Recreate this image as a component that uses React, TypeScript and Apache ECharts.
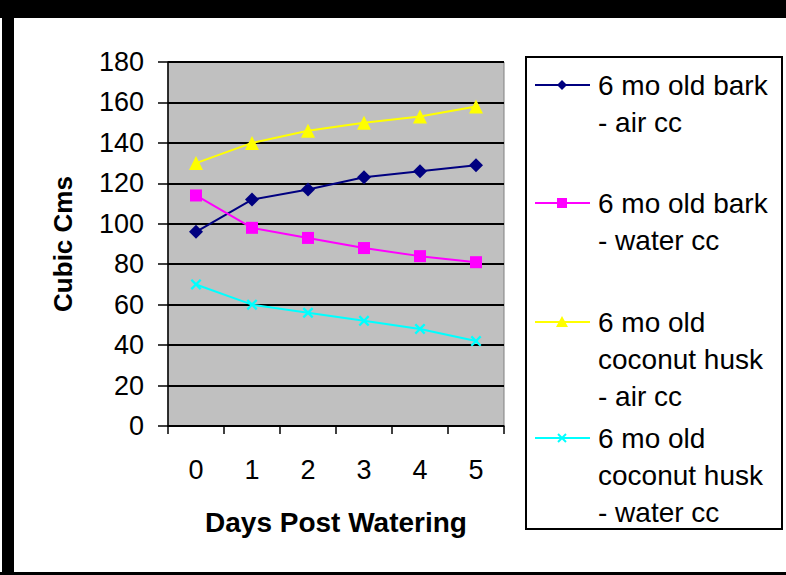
import React, { useEffect, useRef } from "react";
import * as echarts from "echarts";

const categories = ["0", "1", "2", "3", "4", "5"];
const seriesNames = [
  "6 mo old bark - air cc",
  "6 mo old bark - water cc",
  "6 mo old coconut husk - air cc",
  "6 mo old coconut husk - water cc",
];
const legendLabels = [
  "6 mo old bark\n- air cc",
  "6 mo old bark\n- water cc",
  "6 mo old\ncoconut husk\n- air cc",
  "6 mo old\ncoconut husk\n- water cc",
];
const barkAir = [96, 112, 117, 123, 126, 129];
const barkWater = [114, 98, 93, 88, 84, 81];
const huskAir = [130, 140, 146, 150, 153, 158];
const huskWater = [70, 60, 56, 52, 48, 42];
const yTicks = { min: 0, max: 180, interval: 20 };

const colors = ["#000080", "#ff00ff", "#ffff00", "#00ffff"];
const FONT = "'Liberation Sans', Arial, sans-serif";
const X_PATH = "path://M0,1.5L1.5,0L5,3.5L8.5,0L10,1.5L6.5,5L10,8.5L8.5,10L5,6.5L1.5,10L0,8.5L3.5,5Z";

export default function App() {
  const ref = useRef<HTMLDivElement>(null);
  useEffect(() => {
    if (!ref.current) return;
    const chart = echarts.init(ref.current, undefined, { renderer: "svg" });
    const values = [barkAir, barkWater, huskAir, huskWater];
    const symbols = ["diamond", "rect", "triangle", X_PATH];
    const sizes = [14, 12, 14, 11];

    const legendTop = [85, 203, 322, 438];
    const legendGraphics: any[] = [
      {
        type: "rect",
        shape: { x: 526, y: 57, width: 256, height: 472 },
        style: { fill: "#ffffff", stroke: "#000000", lineWidth: 2 },
      },
    ];
    legendLabels.forEach((lab, i) => {
      const cy = legendTop[i];
      legendGraphics.push({
        type: "line",
        shape: { x1: 535, y1: cy, x2: 590, y2: cy },
        style: { stroke: colors[i], lineWidth: 2 },
      });
      if (i === 0) {
        legendGraphics.push({
          type: "polygon",
          shape: { points: [[562, cy - 5], [567, cy], [562, cy + 5], [557, cy]] },
          style: { fill: colors[i] },
        });
      } else if (i === 1) {
        legendGraphics.push({
          type: "rect",
          shape: { x: 557, y: cy - 5, width: 10, height: 10 },
          style: { fill: colors[i] },
        });
      } else if (i === 2) {
        legendGraphics.push({
          type: "polygon",
          shape: { points: [[562, cy - 6], [568, cy + 5], [556, cy + 5]] },
          style: { fill: colors[i] },
        });
      } else {
        legendGraphics.push(
          {
            type: "line",
            shape: { x1: 558, y1: cy - 4, x2: 566, y2: cy + 4 },
            style: { stroke: colors[i], lineWidth: 2 },
          },
          {
            type: "line",
            shape: { x1: 566, y1: cy - 4, x2: 558, y2: cy + 4 },
            style: { stroke: colors[i], lineWidth: 2 },
          }
        );
      }
      legendGraphics.push({
        type: "text",
        x: 598,
        y: cy - 18.5,
        style: {
          text: lab,
          font: `28px ${FONT}`,
          fill: "#000000",
          lineHeight: 37,
          verticalAlign: "top",
        },
      });
    });

    chart.setOption({
      animation: false,
      backgroundColor: "#ffffff",
      textStyle: { fontFamily: FONT },
      legend: { show: false },
      grid: {
        left: 168,
        top: 62,
        width: 336,
        height: 364,
        show: true,
        backgroundColor: "#c0c0c0",
        borderColor: "#808080",
        borderWidth: 1,
      },
      xAxis: {
        type: "category",
        data: categories,
        boundaryGap: true,
        name: "Days Post Watering",
        nameLocation: "middle",
        nameGap: 82,
        nameTextStyle: { fontSize: 28, fontWeight: "bold", color: "#000", fontFamily: FONT },
        axisLine: { lineStyle: { color: "#000", width: 1.5 } },
        axisTick: { show: true, length: 8, alignWithLabel: false, lineStyle: { color: "#000", width: 1.5 } },
        axisLabel: { fontSize: 27, color: "#000", margin: 30, fontFamily: FONT },
        splitLine: { show: false },
      },
      yAxis: {
        type: "value",
        min: yTicks.min,
        max: yTicks.max,
        interval: yTicks.interval,
        name: "Cubic Cms",
        nameLocation: "middle",
        nameGap: 92,
        nameRotate: 90,
        nameTextStyle: { fontSize: 26, fontWeight: "bold", color: "#000", fontFamily: FONT },
        axisLine: { show: true, lineStyle: { color: "#000", width: 1.5 } },
        axisTick: { show: true, length: 10, lineStyle: { color: "#000", width: 1.5 } },
        axisLabel: { fontSize: 27, color: "#000", margin: 24, fontFamily: FONT },
        splitLine: { show: true, lineStyle: { color: "#000", width: 2 } },
      },
      series: values.map((v, i) => ({
        type: "line",
        name: seriesNames[i],
        data: v,
        symbol: symbols[i],
        symbolSize: sizes[i],
        showAllSymbol: true,
        lineStyle: { color: colors[i], width: 2 },
        itemStyle: { color: colors[i], borderWidth: 0 },
        z: 3,
      })),
      graphic: [
        { type: "rect", shape: { x: 0, y: 0, width: 786, height: 18 }, style: { fill: "#000" }, z: 100 },
        { type: "rect", shape: { x: 2, y: 0, width: 12, height: 575 }, style: { fill: "#000" }, z: 100 },
        { type: "rect", shape: { x: 0, y: 572, width: 786, height: 3 }, style: { fill: "#000" }, z: 100 },
        ...legendGraphics,
      ],
    });
    return () => chart.dispose();
  }, []);
  return (
    <div
      ref={ref}
      style={{ position: "fixed", left: 0, top: 0, width: 786, height: 575 }}
    />
  );
}
